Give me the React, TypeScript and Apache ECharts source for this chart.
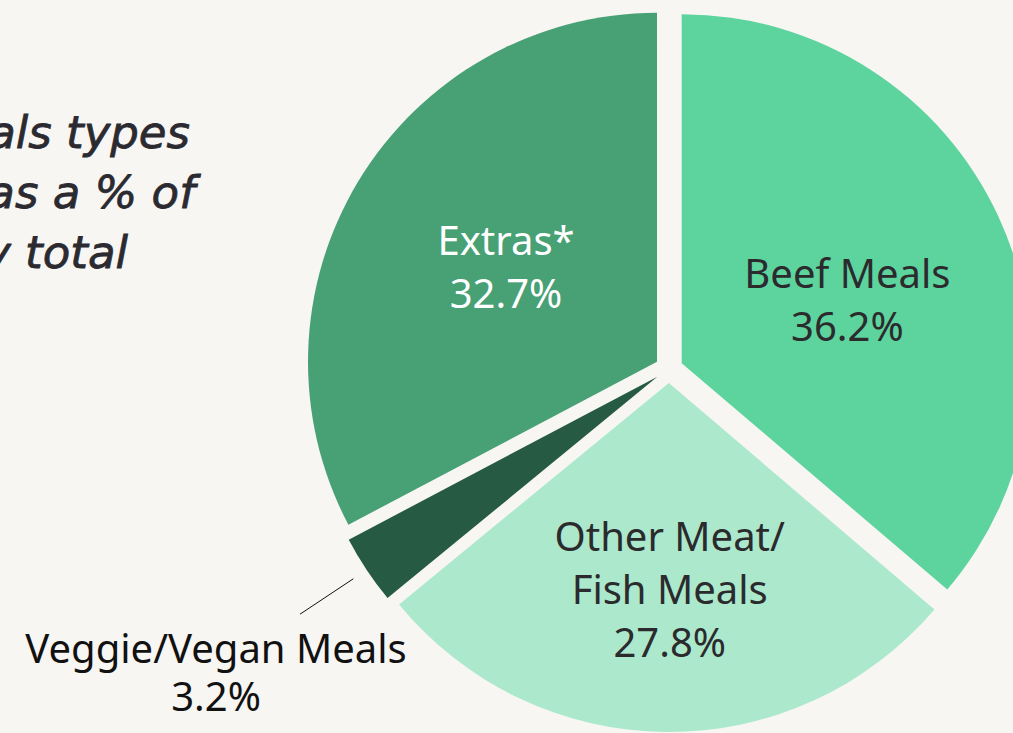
import React, { useEffect, useRef } from "react";
import * as echarts from "echarts";

const categories = ["Beef Meals", "Other Meat/\nFish Meals", "Veggie/Vegan Meals", "Extras*"];
const shares = [36.2, 27.8, 3.2, 32.7];
const sliceColors = ["#5DD39E", "#ACE8CC", "#265A42", "#48A075"];
const labelColors = ["#2B2B2E", "#2B2B2E", "#111111", "#FFFFFF"];
const titleLines = ["Meals types", "sold as a % of", "weekly total"];

const BG = "#F7F6F3";
const FONT = "'Noto Sans', sans-serif";

export default function App() {
  const ref = useRef<HTMLDivElement>(null);

  useEffect(() => {
    if (!ref.current) return;
    const chart = echarts.init(ref.current, undefined, { renderer: "svg" });

    // padding used to nudge each label block inside / beside its slice
    const labelPads: number[][] = [
      [20, 0, 0, 9],
      [56, 0, 0, 5],
      [114, 158, 0, 0],
      [0, 0, 8, 2],
    ];

    const data = categories.map((name, i) => {
      const outside = i === 2;
      const item: any = {
        name,
        value: shares[i],
        selected: true,
        itemStyle: { color: sliceColors[i] },
        select: { itemStyle: { color: sliceColors[i] } },
        label: {
          position: outside ? "outside" : "inside",
          padding: labelPads[i],
          align: "center",
          rich: {
            t: {
              color: labelColors[i],
              fontFamily: FONT,
              fontSize: 40,
              lineHeight: outside ? 48 : 53,
              align: "center",
            },
          },
        },
        labelLine: outside
          ? {
              show: true,
              length: 80,
              length2: 0,
              smooth: false,
              lineStyle: { color: "#111111", width: 1 },
            }
          : { show: false },
      };
      return item;
    });

    const titleEnds = [
      { x: 190, y: 132 },
      { x: 195, y: 192 },
      { x: 128, y: 252 },
    ];

    chart.setOption({
      animation: false,
      backgroundColor: BG,
      graphic: titleLines.map((t, i) => ({
        type: "text",
        x: titleEnds[i].x,
        y: titleEnds[i].y,
        style: {
          text: t,
          align: "right",
          verticalAlign: "middle",
          fontFamily: "'DejaVu Sans', sans-serif",
          fontStyle: "italic",
          fontWeight: 400,
          fontSize: 45,
          fill: "#2B2A30",
          stroke: "#2B2A30",
          lineWidth: 0.8,
        },
      })),
      series: [
        {
          type: "pie",
          center: [669, 369],
          radius: [0, 349],
          startAngle: 90,
          clockwise: true,
          avoidLabelOverlap: false,
          selectedMode: "multiple",
          selectedOffset: 14,
          itemStyle: { borderWidth: 0 },
          label: {
            show: true,
            fontFamily: FONT,
            fontSize: 40,
            formatter: (p: any) =>
              String(p.name)
                .split("\n")
                .concat([p.value + "%"])
                .map((l: string) => "{t|" + l + "}")
                .join("\n"),
          },
          labelLayout: (p: any) => {
            if (p.dataIndex !== 2 || !p.labelLinePoints) return {};
            const pts = p.labelLinePoints;
            const a = pts[0];
            const b = pts[1];
            const ux = b[0] - a[0];
            const uy = b[1] - a[1];
            const len = Math.sqrt(ux * ux + uy * uy) || 1;
            const start = [a[0] + (ux / len) * 16, a[1] + (uy / len) * 16];
            return { align: "center", labelLinePoints: [start, b] };
          },
          emphasis: { disabled: true },
          data,
        },
      ],
    });

    return () => chart.dispose();
  }, []);

  return (
    <div
      ref={ref}
      style={{ position: "fixed", left: 0, top: 0, width: 1013, height: 733 }}
    />
  );
}
